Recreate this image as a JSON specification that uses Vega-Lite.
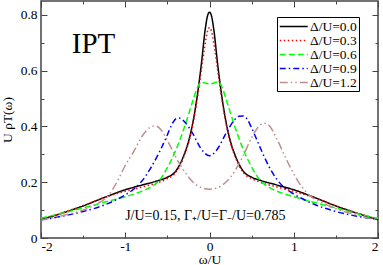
{
  "$schema": "https://vega.github.io/schema/vega-lite/v6.json",
  "width": 337,
  "height": 237,
  "autosize": {"type": "none"},
  "padding": {"left": 41, "top": 1, "right": 5, "bottom": 27},
  "config": {
    "view": {"stroke": "#444", "strokeWidth": 1.5},
    "font": "Liberation Serif",
    "axis": {"grid": false, "domain": false, "tickColor": "#444", "tickWidth": 1, "labelFont": "Liberation Serif", "labelFontSize": 13.5, "labelColor": "black", "titleFont": "Liberation Serif", "titleFontSize": 13.5, "titleFontWeight": "normal", "titleColor": "black"}
  },
  "datasets": {
    "curves": [
      {"w": -2, "u": 0.066, "d": "Δ/U=0.0"}, {"w": -1.75, "u": 0.089, "d": "Δ/U=0.0"}, {"w": -1.5, "u": 0.115, "d": "Δ/U=0.0"}, {"w": -1.25, "u": 0.145, "d": "Δ/U=0.0"}, {"w": -1.0, "u": 0.173, "d": "Δ/U=0.0"}, {"w": -0.8, "u": 0.19, "d": "Δ/U=0.0"}, {"w": -0.6, "u": 0.207, "d": "Δ/U=0.0"}, {"w": -0.5, "u": 0.218, "d": "Δ/U=0.0"}, {"w": -0.4, "u": 0.24, "d": "Δ/U=0.0"}, {"w": -0.35, "u": 0.265, "d": "Δ/U=0.0"}, {"w": -0.3, "u": 0.3, "d": "Δ/U=0.0"}, {"w": -0.25, "u": 0.345, "d": "Δ/U=0.0"}, {"w": -0.2, "u": 0.41, "d": "Δ/U=0.0"}, {"w": -0.15, "u": 0.5, "d": "Δ/U=0.0"}, {"w": -0.1, "u": 0.615, "d": "Δ/U=0.0"}, {"w": -0.05, "u": 0.75, "d": "Δ/U=0.0"}, {"w": -0.025, "u": 0.795, "d": "Δ/U=0.0"}, {"w": 0, "u": 0.81, "d": "Δ/U=0.0"}, {"w": 0.025, "u": 0.795, "d": "Δ/U=0.0"}, {"w": 0.05, "u": 0.75, "d": "Δ/U=0.0"}, {"w": 0.1, "u": 0.615, "d": "Δ/U=0.0"}, {"w": 0.15, "u": 0.5, "d": "Δ/U=0.0"}, {"w": 0.2, "u": 0.41, "d": "Δ/U=0.0"}, {"w": 0.25, "u": 0.345, "d": "Δ/U=0.0"}, {"w": 0.3, "u": 0.3, "d": "Δ/U=0.0"}, {"w": 0.35, "u": 0.265, "d": "Δ/U=0.0"}, {"w": 0.4, "u": 0.24, "d": "Δ/U=0.0"}, {"w": 0.5, "u": 0.218, "d": "Δ/U=0.0"}, {"w": 0.6, "u": 0.207, "d": "Δ/U=0.0"}, {"w": 0.8, "u": 0.19, "d": "Δ/U=0.0"}, {"w": 1.0, "u": 0.173, "d": "Δ/U=0.0"}, {"w": 1.25, "u": 0.145, "d": "Δ/U=0.0"}, {"w": 1.5, "u": 0.115, "d": "Δ/U=0.0"}, {"w": 1.75, "u": 0.089, "d": "Δ/U=0.0"}, {"w": 2, "u": 0.066, "d": "Δ/U=0.0"},

      {"w": -2, "u": 0.066, "d": "Δ/U=0.3"}, {"w": -1.75, "u": 0.09, "d": "Δ/U=0.3"}, {"w": -1.5, "u": 0.116, "d": "Δ/U=0.3"}, {"w": -1.25, "u": 0.145, "d": "Δ/U=0.3"}, {"w": -1.0, "u": 0.168, "d": "Δ/U=0.3"}, {"w": -0.8, "u": 0.183, "d": "Δ/U=0.3"}, {"w": -0.6, "u": 0.2, "d": "Δ/U=0.3"}, {"w": -0.5, "u": 0.213, "d": "Δ/U=0.3"}, {"w": -0.4, "u": 0.235, "d": "Δ/U=0.3"}, {"w": -0.35, "u": 0.26, "d": "Δ/U=0.3"}, {"w": -0.3, "u": 0.295, "d": "Δ/U=0.3"}, {"w": -0.25, "u": 0.34, "d": "Δ/U=0.3"}, {"w": -0.2, "u": 0.405, "d": "Δ/U=0.3"}, {"w": -0.15, "u": 0.49, "d": "Δ/U=0.3"}, {"w": -0.1, "u": 0.595, "d": "Δ/U=0.3"}, {"w": -0.05, "u": 0.7, "d": "Δ/U=0.3"}, {"w": -0.025, "u": 0.74, "d": "Δ/U=0.3"}, {"w": 0, "u": 0.755, "d": "Δ/U=0.3"}, {"w": 0.025, "u": 0.74, "d": "Δ/U=0.3"}, {"w": 0.05, "u": 0.7, "d": "Δ/U=0.3"}, {"w": 0.1, "u": 0.595, "d": "Δ/U=0.3"}, {"w": 0.15, "u": 0.49, "d": "Δ/U=0.3"}, {"w": 0.2, "u": 0.405, "d": "Δ/U=0.3"}, {"w": 0.25, "u": 0.34, "d": "Δ/U=0.3"}, {"w": 0.3, "u": 0.295, "d": "Δ/U=0.3"}, {"w": 0.35, "u": 0.26, "d": "Δ/U=0.3"}, {"w": 0.4, "u": 0.235, "d": "Δ/U=0.3"}, {"w": 0.5, "u": 0.213, "d": "Δ/U=0.3"}, {"w": 0.6, "u": 0.2, "d": "Δ/U=0.3"}, {"w": 0.8, "u": 0.183, "d": "Δ/U=0.3"}, {"w": 1.0, "u": 0.167, "d": "Δ/U=0.3"}, {"w": 1.25, "u": 0.144, "d": "Δ/U=0.3"}, {"w": 1.5, "u": 0.115, "d": "Δ/U=0.3"}, {"w": 1.75, "u": 0.09, "d": "Δ/U=0.3"}, {"w": 2, "u": 0.066, "d": "Δ/U=0.3"},

      {"w": -2, "u": 0.071, "d": "Δ/U=0.6"}, {"w": -1.75, "u": 0.089, "d": "Δ/U=0.6"}, {"w": -1.5, "u": 0.108, "d": "Δ/U=0.6"}, {"w": -1.25, "u": 0.128, "d": "Δ/U=0.6"}, {"w": -1.0, "u": 0.148, "d": "Δ/U=0.6"}, {"w": -0.8, "u": 0.168, "d": "Δ/U=0.6"}, {"w": -0.7, "u": 0.182, "d": "Δ/U=0.6"}, {"w": -0.6, "u": 0.205, "d": "Δ/U=0.6"}, {"w": -0.5, "u": 0.252, "d": "Δ/U=0.6"}, {"w": -0.4, "u": 0.315, "d": "Δ/U=0.6"}, {"w": -0.3, "u": 0.395, "d": "Δ/U=0.6"}, {"w": -0.2, "u": 0.49, "d": "Δ/U=0.6"}, {"w": -0.15, "u": 0.535, "d": "Δ/U=0.6"}, {"w": -0.1, "u": 0.558, "d": "Δ/U=0.6"}, {"w": -0.05, "u": 0.556, "d": "Δ/U=0.6"}, {"w": 0, "u": 0.552, "d": "Δ/U=0.6"}, {"w": 0.05, "u": 0.556, "d": "Δ/U=0.6"}, {"w": 0.1, "u": 0.56, "d": "Δ/U=0.6"}, {"w": 0.15, "u": 0.54, "d": "Δ/U=0.6"}, {"w": 0.2, "u": 0.495, "d": "Δ/U=0.6"}, {"w": 0.3, "u": 0.4, "d": "Δ/U=0.6"}, {"w": 0.4, "u": 0.318, "d": "Δ/U=0.6"}, {"w": 0.5, "u": 0.255, "d": "Δ/U=0.6"}, {"w": 0.6, "u": 0.207, "d": "Δ/U=0.6"}, {"w": 0.7, "u": 0.183, "d": "Δ/U=0.6"}, {"w": 0.8, "u": 0.168, "d": "Δ/U=0.6"}, {"w": 1.0, "u": 0.148, "d": "Δ/U=0.6"}, {"w": 1.25, "u": 0.127, "d": "Δ/U=0.6"}, {"w": 1.5, "u": 0.107, "d": "Δ/U=0.6"}, {"w": 1.75, "u": 0.088, "d": "Δ/U=0.6"}, {"w": 2, "u": 0.07, "d": "Δ/U=0.6"},

      {"w": -2, "u": 0.065, "d": "Δ/U=0.9"}, {"w": -1.75, "u": 0.078, "d": "Δ/U=0.9"}, {"w": -1.5, "u": 0.095, "d": "Δ/U=0.9"}, {"w": -1.25, "u": 0.118, "d": "Δ/U=0.9"}, {"w": -1.0, "u": 0.155, "d": "Δ/U=0.9"}, {"w": -0.9, "u": 0.175, "d": "Δ/U=0.9"}, {"w": -0.8, "u": 0.205, "d": "Δ/U=0.9"}, {"w": -0.7, "u": 0.25, "d": "Δ/U=0.9"}, {"w": -0.6, "u": 0.305, "d": "Δ/U=0.9"}, {"w": -0.5, "u": 0.37, "d": "Δ/U=0.9"}, {"w": -0.45, "u": 0.405, "d": "Δ/U=0.9"}, {"w": -0.4, "u": 0.427, "d": "Δ/U=0.9"}, {"w": -0.35, "u": 0.43, "d": "Δ/U=0.9"}, {"w": -0.3, "u": 0.418, "d": "Δ/U=0.9"}, {"w": -0.2, "u": 0.375, "d": "Δ/U=0.9"}, {"w": -0.1, "u": 0.32, "d": "Δ/U=0.9"}, {"w": 0, "u": 0.295, "d": "Δ/U=0.9"}, {"w": 0.1, "u": 0.322, "d": "Δ/U=0.9"}, {"w": 0.2, "u": 0.378, "d": "Δ/U=0.9"}, {"w": 0.3, "u": 0.425, "d": "Δ/U=0.9"}, {"w": 0.35, "u": 0.437, "d": "Δ/U=0.9"}, {"w": 0.4, "u": 0.438, "d": "Δ/U=0.9"}, {"w": 0.45, "u": 0.425, "d": "Δ/U=0.9"}, {"w": 0.5, "u": 0.395, "d": "Δ/U=0.9"}, {"w": 0.6, "u": 0.325, "d": "Δ/U=0.9"}, {"w": 0.7, "u": 0.26, "d": "Δ/U=0.9"}, {"w": 0.8, "u": 0.21, "d": "Δ/U=0.9"}, {"w": 0.9, "u": 0.178, "d": "Δ/U=0.9"}, {"w": 1.0, "u": 0.158, "d": "Δ/U=0.9"}, {"w": 1.25, "u": 0.12, "d": "Δ/U=0.9"}, {"w": 1.5, "u": 0.095, "d": "Δ/U=0.9"}, {"w": 1.75, "u": 0.078, "d": "Δ/U=0.9"}, {"w": 2, "u": 0.066, "d": "Δ/U=0.9"},

      {"w": -2, "u": 0.064, "d": "Δ/U=1.2"}, {"w": -1.75, "u": 0.08, "d": "Δ/U=1.2"}, {"w": -1.5, "u": 0.1, "d": "Δ/U=1.2"}, {"w": -1.35, "u": 0.12, "d": "Δ/U=1.2"}, {"w": -1.2, "u": 0.152, "d": "Δ/U=1.2"}, {"w": -1.1, "u": 0.2, "d": "Δ/U=1.2"}, {"w": -1.0, "u": 0.26, "d": "Δ/U=1.2"}, {"w": -0.9, "u": 0.31, "d": "Δ/U=1.2"}, {"w": -0.8, "u": 0.365, "d": "Δ/U=1.2"}, {"w": -0.7, "u": 0.398, "d": "Δ/U=1.2"}, {"w": -0.65, "u": 0.402, "d": "Δ/U=1.2"}, {"w": -0.6, "u": 0.396, "d": "Δ/U=1.2"}, {"w": -0.5, "u": 0.35, "d": "Δ/U=1.2"}, {"w": -0.4, "u": 0.29, "d": "Δ/U=1.2"}, {"w": -0.3, "u": 0.24, "d": "Δ/U=1.2"}, {"w": -0.2, "u": 0.202, "d": "Δ/U=1.2"}, {"w": -0.1, "u": 0.181, "d": "Δ/U=1.2"}, {"w": 0, "u": 0.175, "d": "Δ/U=1.2"}, {"w": 0.1, "u": 0.181, "d": "Δ/U=1.2"}, {"w": 0.2, "u": 0.202, "d": "Δ/U=1.2"}, {"w": 0.3, "u": 0.24, "d": "Δ/U=1.2"}, {"w": 0.4, "u": 0.295, "d": "Δ/U=1.2"}, {"w": 0.5, "u": 0.36, "d": "Δ/U=1.2"}, {"w": 0.6, "u": 0.405, "d": "Δ/U=1.2"}, {"w": 0.65, "u": 0.412, "d": "Δ/U=1.2"}, {"w": 0.7, "u": 0.406, "d": "Δ/U=1.2"}, {"w": 0.8, "u": 0.355, "d": "Δ/U=1.2"}, {"w": 0.9, "u": 0.29, "d": "Δ/U=1.2"}, {"w": 1.0, "u": 0.23, "d": "Δ/U=1.2"}, {"w": 1.1, "u": 0.182, "d": "Δ/U=1.2"}, {"w": 1.2, "u": 0.15, "d": "Δ/U=1.2"}, {"w": 1.35, "u": 0.125, "d": "Δ/U=1.2"}, {"w": 1.5, "u": 0.105, "d": "Δ/U=1.2"}, {"w": 1.75, "u": 0.082, "d": "Δ/U=1.2"}, {"w": 2, "u": 0.064, "d": "Δ/U=1.2"}
    ]
  },
  "layer": [
    {
      "data": {"name": "curves"},
      "mark": {"type": "line", "interpolate": "monotone", "strokeWidth": 1.5},
      "encoding": {
        "x": {"field": "w", "type": "quantitative", "scale": {"domain": [-2, 2], "nice": false, "zero": false},
              "axis": {"orient": "bottom", "values": [-2, -1, 0, 1, 2], "tickSize": -6, "labelPadding": 7, "title": "ω/U", "titlePadding": 0, "labelExpr": "'' + datum.value"}},
        "y": {"field": "u", "type": "quantitative", "scale": {"domain": [0, 0.85], "nice": false},
              "axis": {"orient": "left", "values": [0, 0.2, 0.4, 0.6, 0.8], "tickSize": -6, "labelPadding": 10, "title": "U ρT(ω)", "titlePadding": 6, "labelExpr": "datum.value == 0 ? '0' : format(datum.value, '.1f')"}},
        "color": {"field": "d", "type": "nominal",
                  "scale": {"domain": ["Δ/U=0.0", "Δ/U=0.3", "Δ/U=0.6", "Δ/U=0.9", "Δ/U=1.2"], "range": ["#000000", "#ff0000", "#00ff00", "#0000ff", "#bc8f8f"]},
                  "legend": {"orient": "none", "legendX": 236, "legendY": 16, "title": null, "symbolType": "M-1,0H3.15", "symbolSize": 182, "symbolStrokeWidth": 1.5, "labelFont": "Liberation Serif", "labelFontSize": 13.5, "labelColor": "black", "labelOffset": 16, "strokeColor": "black", "fillColor": "white", "padding": 2, "rowPadding": 0}},
        "strokeDash": {"field": "d", "type": "nominal",
                       "scale": {"domain": ["Δ/U=0.0", "Δ/U=0.3", "Δ/U=0.6", "Δ/U=0.9", "Δ/U=1.2"], "range": [[1, 0], [1.5, 2.5], [6, 3], [6, 3, 1.5, 3], [8, 3, 1.5, 3, 1.5, 3]]},
                       "legend": {"orient": "none", "legendX": 236, "legendY": 16, "title": null, "symbolType": "M-1,0H3.15", "symbolSize": 182, "symbolStrokeWidth": 1.5, "labelFont": "Liberation Serif", "labelFontSize": 13.5, "labelColor": "black", "labelOffset": 16, "strokeColor": "black", "fillColor": "white", "padding": 2, "rowPadding": 0}}
      }
    },
    {
      "data": {"name": "curves"},
      "mark": {"type": "line", "opacity": 0},
      "encoding": {
        "x": {"field": "w", "type": "quantitative", "axis": {"orient": "bottom", "values": [-1.5, -0.5, 0.5, 1.5], "tickSize": -3, "labels": false, "title": null}},
        "y": {"field": "u", "type": "quantitative", "axis": {"orient": "left", "values": [0.1, 0.3, 0.5, 0.7], "tickSize": -3, "labels": false, "title": null}}
      }
    },
    {
      "data": {"name": "curves"},
      "mark": {"type": "line", "opacity": 0},
      "encoding": {
        "x": {"field": "w", "type": "quantitative", "axis": {"orient": "top", "values": [-2, -1, 0, 1, 2], "tickSize": -6, "labels": false, "title": null}},
        "y": {"field": "u", "type": "quantitative", "axis": {"orient": "right", "values": [0, 0.2, 0.4, 0.6, 0.8], "tickSize": -6, "labels": false, "title": null}}
      }
    },
    {
      "data": {"name": "curves"},
      "mark": {"type": "line", "opacity": 0},
      "encoding": {
        "x": {"field": "w", "type": "quantitative", "axis": {"orient": "top", "values": [-1.5, -0.5, 0.5, 1.5], "tickSize": -3, "labels": false, "title": null}},
        "y": {"field": "u", "type": "quantitative", "axis": {"orient": "right", "values": [0.1, 0.3, 0.5, 0.7], "tickSize": -3, "labels": false, "title": null}}
      }
    },
    {
      "data": {"values": [{}]},
      "mark": {"type": "text", "text": "IPT", "font": "Liberation Serif", "fontSize": 29, "align": "center", "baseline": "alphabetic"},
      "encoding": {
        "x": {"datum": -1.376, "type": "quantitative", "axis": null},
        "y": {"datum": 0.664, "type": "quantitative", "axis": null}
      }
    },
    {
      "data": {"values": [{}]},
      "mark": {"type": "text", "text": "J/U=0.15, Γ₊/U=Γ₋/U=0.785", "font": "Liberation Serif", "fontSize": 14, "align": "center", "baseline": "alphabetic"},
      "encoding": {
        "x": {"datum": -0.05, "type": "quantitative", "axis": null},
        "y": {"datum": 0.065, "type": "quantitative", "axis": null}
      }
    }
  ],
  "resolve": {"axis": {"x": "independent", "y": "independent"}}
}
